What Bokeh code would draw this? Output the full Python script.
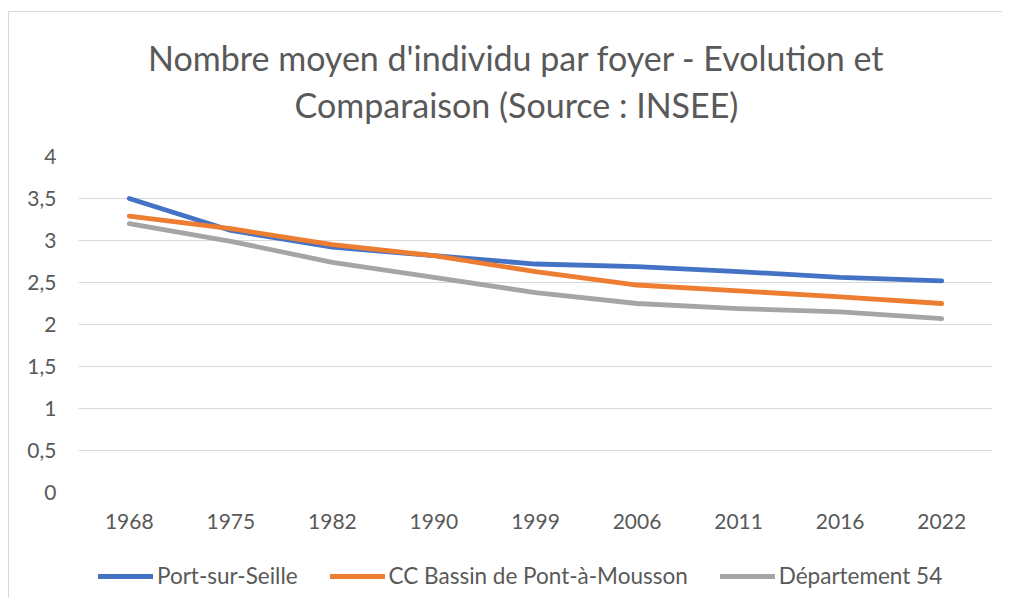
from bokeh.plotting import figure
from bokeh.layouts import column
from bokeh.models import (FactorRange, FixedTicker, CustomJSTickFormatter, Legend, LegendItem,
                          Label, Range1d)
from bokeh.embed import file_html
from bokeh.resources import INLINE

years = ["1968", "1975", "1982", "1990", "1999", "2006", "2011", "2016", "2022"]
port_sur_seille = [3.50, 3.12, 2.92, 2.82, 2.72, 2.69, 2.63, 2.56, 2.52]
cc_bassin = [3.29, 3.14, 2.95, 2.82, 2.63, 2.47, 2.40, 2.33, 2.25]
departement_54 = [3.20, 2.99, 2.74, 2.56, 2.38, 2.25, 2.19, 2.15, 2.07]
series_names = ["Port-sur-Seille", "CC Bassin de Pont-à-Mousson", "Département 54"]
y_ticks = [0, 0.5, 1, 1.5, 2, 2.5, 3, 3.5, 4]
title_lines = ["Nombre moyen d'individu par foyer - Evolution et", "Comparaison (Source : INSEE)"]

colors = ["#4472C4", "#ED7D31", "#A5A5A5"]
FONT = "Lato"
TXT = "#595959"
FRAME_W = 914


def blank(h):
    f = figure(x_range=Range1d(0, FRAME_W), y_range=Range1d(0, h), width=993, height=h,
               output_backend="svg", toolbar_location=None,
               x_axis_location=None, y_axis_location=None,
               min_border_left=0, min_border_right=0, min_border_top=0, min_border_bottom=0)
    f.grid.visible = False
    f.outline_line_color = None
    return f


# title strip
tp = blank(130)
for t, yy in zip(title_lines, [85, 38]):
    tp.add_layout(Label(x=438, y=yy, text=t, text_align="center", text_baseline="middle",
                        text_font=FONT, text_font_size="34px", text_color=TXT))

# chart
p = figure(x_range=FactorRange(factors=years, range_padding=0), y_range=(0, 4),
           width=993, height=408, output_backend="svg", toolbar_location=None,
           min_border_left=69, min_border_right=10, min_border_top=14, min_border_bottom=58)
p.outline_line_color = None
p.xgrid.grid_line_color = None
p.ygrid.grid_line_color = "#D9D9D9"
p.ygrid.grid_line_width = 1
p.yaxis.ticker = FixedTicker(ticks=y_ticks)
p.yaxis.formatter = CustomJSTickFormatter(code="return tick.toString().replace('.', ',');")
for ax in (p.xaxis, p.yaxis):
    ax.axis_line_color = None
    ax.major_tick_line_color = None
    ax.minor_tick_line_color = None
    ax.major_tick_out = 0
    ax.major_label_text_font = FONT
    ax.major_label_text_font_size = "21px"
    ax.major_label_text_color = TXT
p.xaxis.major_label_standoff = 21
p.yaxis.major_label_standoff = 22

for vals, c in zip([port_sur_seille, cc_bassin, departement_54], colors):
    p.line(years, vals, line_color=c, line_width=4.8, line_cap="round", line_join="round")

# legend strip
lp = blank(48)
items = []
for n, c in zip(series_names, colors):
    r = lp.line([-50, -40], [-50, -50], line_color=c, line_width=4.8, line_cap="round")
    items.append(LegendItem(label=n, renderers=[r]))
legend = Legend(items=items, orientation="horizontal", location=(20, 9),
                glyph_width=55, glyph_height=20, label_height=20, label_standoff=4, spacing=32,
                padding=0, margin=0, border_line_color=None, background_fill_alpha=0,
                label_text_font=FONT, label_text_font_size="22.5px", label_text_color=TXT)
lp.add_layout(legend, "center")

layout = column(tp, p, lp, spacing=0)
layout.margin = (11, 0, 0, 8)
layout.styles = {"border-top": "1px solid #D9D9D9", "border-left": "1px solid #D9D9D9"}

open("out.html", "w").write(file_html(layout, INLINE))
